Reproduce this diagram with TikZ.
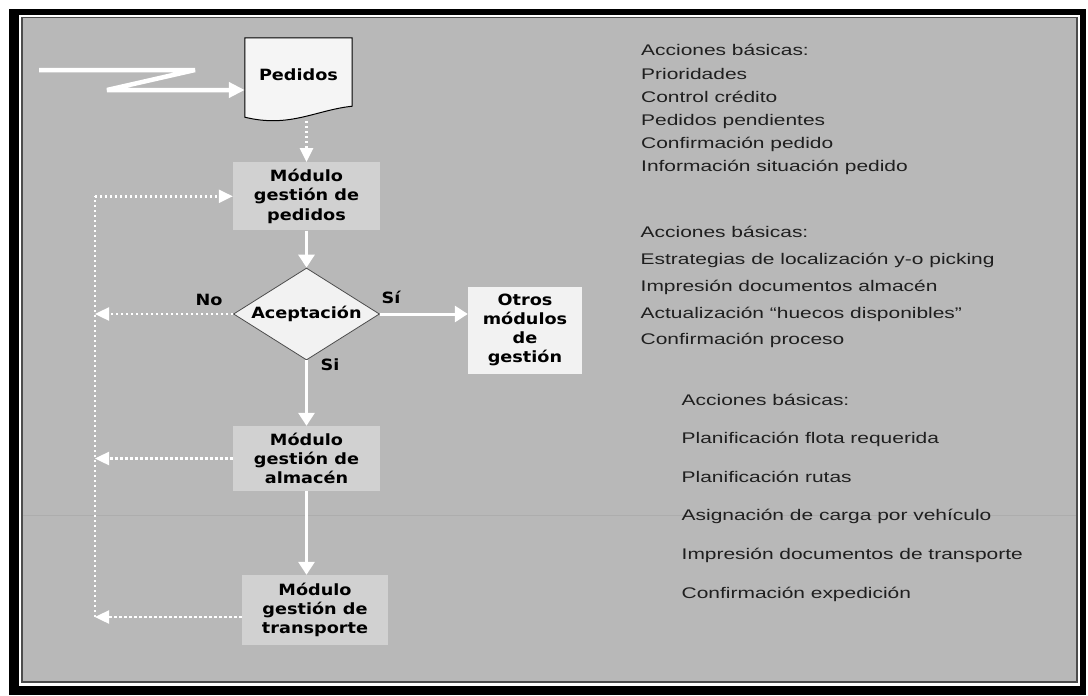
\documentclass[tikz,border=0pt]{standalone}
\usepackage{fontspec}
\usetikzlibrary{arrows.meta,shapes.geometric,calc}
\newfontfamily\rfont[FakeStretch=1.36]{Liberation Sans}
\newfontfamily\bfont[FakeStretch=1.14]{DejaVu Sans Bold}
\definecolor{bg}{gray}{0.72}
\definecolor{boxgray}{gray}{0.82}
\definecolor{frameline}{gray}{0.30}
\definecolor{rtext}{gray}{0.12}
\begin{document}
\begin{tikzpicture}[x=1pt,y=-1pt,
  bfnt/.style={font=\bfont\fontsize{15.5}{19.2}\selectfont},
  modbox/.style={bfnt, fill=boxgray, inner sep=0pt, align=center},
  lbl/.style={bfnt, inner sep=0pt, anchor=base},
  rline/.style={font=\rfont\fontsize{15.4}{18}\selectfont, text=rtext, inner sep=0pt, anchor=base west},
  wline/.style={draw=white, line width=3pt, -{Triangle[length=13pt,width=16pt]}},
  dotline/.style={draw=white, line width=2.4pt, dash pattern=on 2.4pt off 2.6pt},
  dotarrow/.style={dotline, -{Triangle[length=14pt,width=13pt]}},
  zarrow/.style={draw=white, line width=4.5pt, line join=bevel, -{Triangle[length=16pt,width=15pt]}}
]
\useasboundingbox (0,0) rectangle (1088,696);
\fill[white] (0,0) rectangle (1088,696);
% frame
\fill[black] (9,9) rectangle (1086,695);
\fill[white] (19,15) rectangle (1080,686);
\draw[line width=1.2pt, draw=frameline, fill=bg] (22,17.5) rectangle (1077,682);
\draw[line width=0.8pt, draw=gray!64] (23,515) -- (1076,515);

% Pedidos document
\node[minimum width=107pt, minimum height=68pt, inner sep=0pt] (ped) at (298.5,72) {};
\draw[line width=1pt, black, fill=white!96!black] (ped.north west) -- (ped.north east) -- (ped.south east)
   .. controls +(-37,4) and +(45,11) .. ($(ped.south west)+(0,11)$) -- cycle;
\node[bfnt, minimum width=107pt, minimum height=68pt, inner sep=0pt,
      text height=17.4pt, text depth=0pt] (pedt) at (ped) {Pedidos};

% modules
\node[modbox, minimum width=147pt, minimum height=68pt] (mped) at (306.5,196.3)
   {Módulo\\gestión de\\pedidos};
\node[draw=black!70, line width=0.8pt, fill=white!95!black, shape=diamond,
      minimum width=146pt, minimum height=92pt, inner sep=0pt] (acc) at (306.5,314) {};
\node[bfnt, inner sep=0pt] (acct) at (acc) {Aceptación};
\node[modbox, fill=white!95!black, minimum width=114pt, minimum height=87pt] (otr) at (525,330)
   {Otros\\módulos\\de\\gestión};
\node[modbox, minimum width=147pt, minimum height=65pt] (alm) at (306.5,458.5)
   {Módulo\\gestión de\\almacén};
\node[modbox, minimum width=146pt, minimum height=70pt] (tra) at (315,610)
   {Módulo\\gestión de\\transporte};

% labels
\node[lbl] (lno) at (209,305) {No};
\node[lbl] (lsi1) at (391,303) {Sí};
\node[lbl] (lsi2) at (330,370) {Si};

% incoming Z arrow
\coordinate (zs) at (39,70);
\draw[zarrow] (zs) -- (195,70) -- (107,90) -- ($(ped.west)+(0,18)$);

% main flow
\coordinate (pedb) at (306.5,121);
\draw[dotarrow] (pedb) -- (mped.north);
\draw[wline] (mped.south) -- (acc.north);
\draw[wline] (acc.east) -- (acc.east -| otr.west);
\draw[wline] (acc.south) -- (alm.north);
\draw[wline] (alm.south) -- (alm.south |- tra.north);

% feedback loop
\coordinate (traw) at ($(tra.west)+(0,7)$);
\coordinate (ltop) at (95,196.3);
\coordinate (lbot) at (traw -| ltop);
\draw[dotline] (lbot) -- (ltop);
\draw[dotarrow] (ltop) -- (mped.west);
\draw[dotarrow] (acc.west) -- (acc.west -| ltop);
\draw[dotarrow] (alm.west) -- (alm.west -| ltop);
\draw[dotarrow] (traw) -- (lbot);

% right text block 1
\node[rline] (r1a) at (641,56)    {Acciones básicas:};
\node[rline] (r1b) at (641,79.1)  {Prioridades};
\node[rline] (r1c) at (641,102.2) {Control crédito};
\node[rline] (r1d) at (641,125.3) {Pedidos pendientes};
\node[rline] (r1e) at (641,148.4) {Confirmación pedido};
\node[rline] (r1f) at (641,171.5) {Información situación pedido};
% block 2
\node[rline] (r2a) at (640.5,237.3) {Acciones básicas:};
\node[rline] (r2b) at (640.5,264.2) {Estrategias de localización y-o picking};
\node[rline] (r2c) at (640.5,291.1) {Impresión documentos almacén};
\node[rline] (r2d) at (640.5,318.0) {Actualización “huecos disponibles”};
\node[rline] (r2e) at (640.5,344.9) {Confirmación proceso};
% block 3
\node[rline] (r3a) at (681.5,405)    {Acciones básicas:};
\node[rline] (r3b) at (681.5,443.65) {Planificación flota requerida};
\node[rline] (r3c) at (681.5,482.3)  {Planificación rutas};
\node[rline] (r3d) at (681.5,520.95) {Asignación de carga por vehículo};
\node[rline] (r3e) at (681.5,559.6)  {Impresión documentos de transporte};
\node[rline] (r3f) at (681.5,598.25) {Confirmación expedición};
\end{tikzpicture}
\end{document}
